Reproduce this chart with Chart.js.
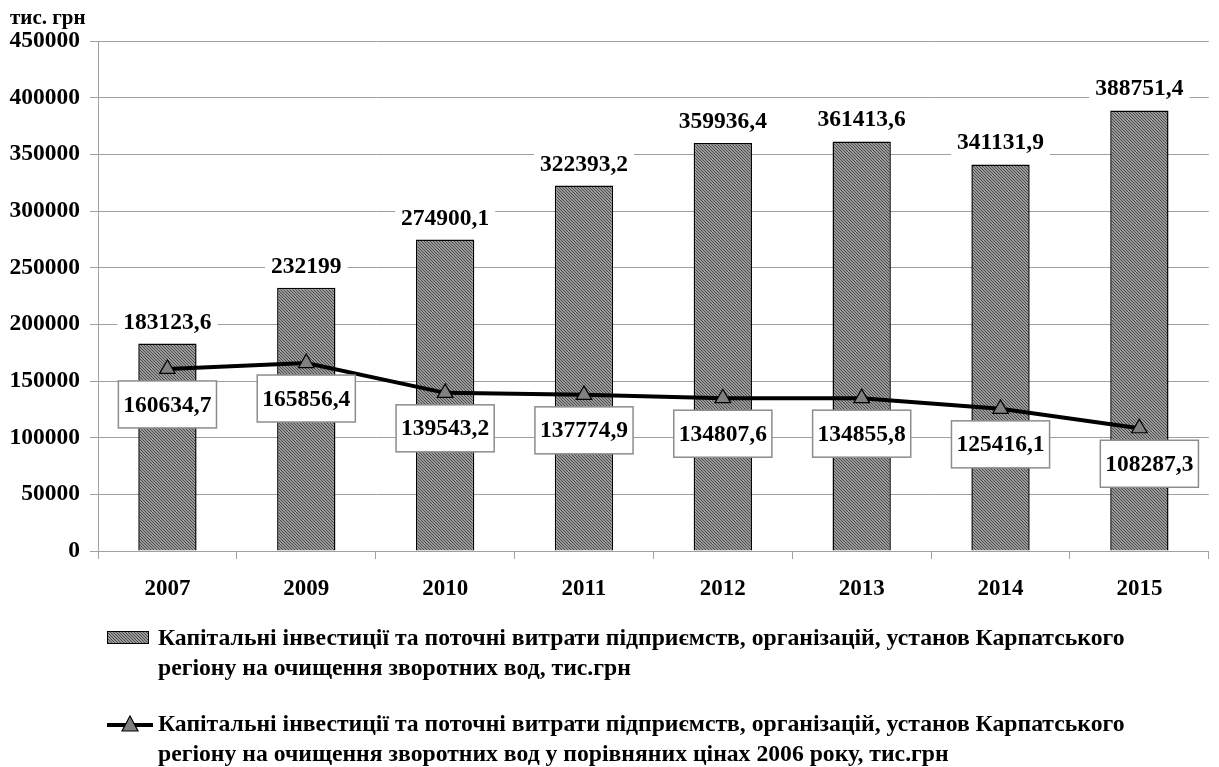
<!DOCTYPE html>
<html>
<head>
<meta charset="utf-8">
<script src="https://cdn.jsdelivr.net/npm/chart.js@4.4.1/dist/chart.umd.min.js"></script>
<style>
  html, body { margin: 0; padding: 0; background: #fff; }
  #wrap { width: 1219px; height: 767px; }
</style>
</head>
<body>
<div id="wrap"><canvas id="chart" width="1219" height="767"></canvas></div>
<script>
const years = ["2007", "2009", "2010", "2011", "2012", "2013", "2014", "2015"];
const nominalCosts = [183123.6, 232199, 274900.1, 322393.2, 359936.4, 361413.6, 341131.9, 388751.4];
const comparableCosts = [160634.7, 165856.4, 139543.2, 137774.9, 134807.6, 134855.8, 125416.1, 108287.3];
const yTicks = [0, 50000, 100000, 150000, 200000, 250000, 300000, 350000, 400000, 450000];

const nominalLabel = [
  "Капітальні інвестиції та поточні витрати підприємств, організацій, установ Карпатського",
  "регіону на очищення зворотних вод, тис.грн"
];
const comparableLabel = [
  "Капітальні інвестиції та поточні витрати підприємств, організацій, установ Карпатського",
  "регіону на очищення зворотних вод у порівняних цінах 2006 року, тис.грн"
];
const unitLabel = "тис. грн";

const FONT = "'Liberation Serif', 'Times New Roman', serif";
const gridGray = "#a0a0a0";

// fine hatched fill for the bars
const makeHatch = () => {
  const c = document.createElement("canvas");
  c.width = 3;
  c.height = 3;
  const g = c.getContext("2d");
  g.fillStyle = "#9a9a9a";
  g.fillRect(0, 0, 3, 3);
  g.fillStyle = "#4c4c4c";
  for (let i = 0; i < 3; i++) {
    g.fillRect(i, i, 1, 1);
  }
  return g.createPattern(c, "repeat");
};
const hatch = makeHatch();

const fmt = (v) => String(v).replace(".", ",");

const labelsPlugin = {
  id: "valueLabels",
  afterDatasetsDraw(chart) {
    const ctx = chart.ctx;
    ctx.save();
    ctx.font = "bold 23.5px " + FONT;
    ctx.textAlign = "center";
    ctx.textBaseline = "middle";

    // bar values, white background over the grid
    chart.getDatasetMeta(0).data.forEach((bar, i) => {
      const txt = fmt(nominalCosts[i]);
      const w = ctx.measureText(txt).width + 12;
      const cy = bar.y - 22;
      ctx.fillStyle = "#fff";
      ctx.fillRect(bar.x - w / 2, cy - 21, w, 42);
      ctx.fillStyle = "#000";
      ctx.fillText(txt, bar.x, cy + 1);
    });

    // line values in framed boxes under the points
    chart.getDatasetMeta(1).data.forEach((pt, i) => {
      const txt = fmt(comparableCosts[i]);
      const w = ctx.measureText(txt).width + 10;
      const h = 47;
      const cx = i === comparableCosts.length - 1 ? pt.x + 10 : pt.x;
      const top = pt.y + 12;
      ctx.fillStyle = "#fff";
      ctx.fillRect(cx - w / 2, top, w, h);
      ctx.strokeStyle = "#8c8c8c";
      ctx.lineWidth = 1.5;
      ctx.strokeRect(cx - w / 2, top, w, h);
      ctx.fillStyle = "#000";
      ctx.fillText(txt, cx, top + h / 2 + 1);
    });

    // unit over the y axis
    ctx.font = "bold 21px " + FONT;
    ctx.textAlign = "left";
    ctx.fillText(unitLabel, 10, chart.chartArea.top - 22);
    ctx.restore();
  }
};

const legendPlugin = {
  id: "twoLineLegend",
  afterDraw(chart) {
    const ctx = chart.ctx;
    const base = chart.chartArea.bottom;
    const x0 = 107;
    const tx = 158;
    ctx.save();
    ctx.font = "bold 23.7px " + FONT;
    ctx.textAlign = "left";
    ctx.textBaseline = "middle";
    ctx.fillStyle = "#000";

    // bar item
    let y = base + 88;
    ctx.fillStyle = hatch;
    ctx.fillRect(x0, y - 8, 42, 13);
    ctx.strokeStyle = "#000";
    ctx.lineWidth = 1;
    ctx.strokeRect(x0 + 0.5, y - 7.5, 41, 12);
    ctx.fillStyle = "#000";
    nominalLabel.forEach((t, i) => ctx.fillText(t, tx, y + i * 30));

    // line item
    y = base + 174;
    ctx.strokeStyle = "#000";
    ctx.lineWidth = 4;
    ctx.beginPath();
    ctx.moveTo(x0, y);
    ctx.lineTo(x0 + 46, y);
    ctx.stroke();
    ctx.beginPath();
    ctx.moveTo(x0 + 23, y - 9);
    ctx.lineTo(x0 + 31, y + 6);
    ctx.lineTo(x0 + 15, y + 6);
    ctx.closePath();
    ctx.fillStyle = "#808080";
    ctx.fill();
    ctx.lineWidth = 1.2;
    ctx.stroke();
    ctx.fillStyle = "#000";
    comparableLabel.forEach((t, i) => ctx.fillText(t, tx, y + i * 30));
    ctx.restore();
  }
};

new Chart(document.getElementById("chart"), {
  type: "bar",
  data: {
    labels: years,
    datasets: [
      {
        type: "bar",
        label: nominalLabel.join(" "),
        data: nominalCosts,
        backgroundColor: hatch,
        borderColor: "#000",
        borderWidth: 1.5,
        barPercentage: 0.42,
        categoryPercentage: 1,
        order: 1
      },
      {
        type: "line",
        label: comparableLabel.join(" "),
        data: comparableCosts,
        borderColor: "#000",
        borderWidth: 4,
        tension: 0,
        pointStyle: "triangle",
        pointRadius: 9,
        pointBackgroundColor: "#808080",
        pointBorderColor: "#000",
        pointBorderWidth: 1.2,
        order: 0
      }
    ]
  },
  options: {
    responsive: false,
    animation: false,
    layout: { padding: { top: 41, right: 9, bottom: 156, left: 0 } },
    plugins: {
      legend: { display: false },
      title: { display: false },
      tooltip: { enabled: false }
    },
    scales: {
      x: {
        offset: true,
        afterFit: (s) => { s.height = 60; },
        grid: {
          offset: true,
          drawOnChartArea: false,
          tickLength: 8,
          color: gridGray
        },
        border: { color: gridGray },
        ticks: {
          color: "#000",
          padding: 16,
          font: { family: FONT, size: 23, weight: "bold" }
        }
      },
      y: {
        min: 0,
        max: 450000,
        afterFit: (s) => { s.width = 98; },
        afterBuildTicks: (s) => { s.ticks = yTicks.map((v) => ({ value: v })); },
        grid: { color: gridGray, tickLength: 8 },
        border: { color: gridGray },
        ticks: {
          color: "#000",
          padding: 10,
          font: { family: FONT, size: 23.5, weight: "bold" },
          callback: (v) => String(v)
        }
      }
    }
  },
  plugins: [labelsPlugin, legendPlugin]
});
</script>
</body>
</html>
